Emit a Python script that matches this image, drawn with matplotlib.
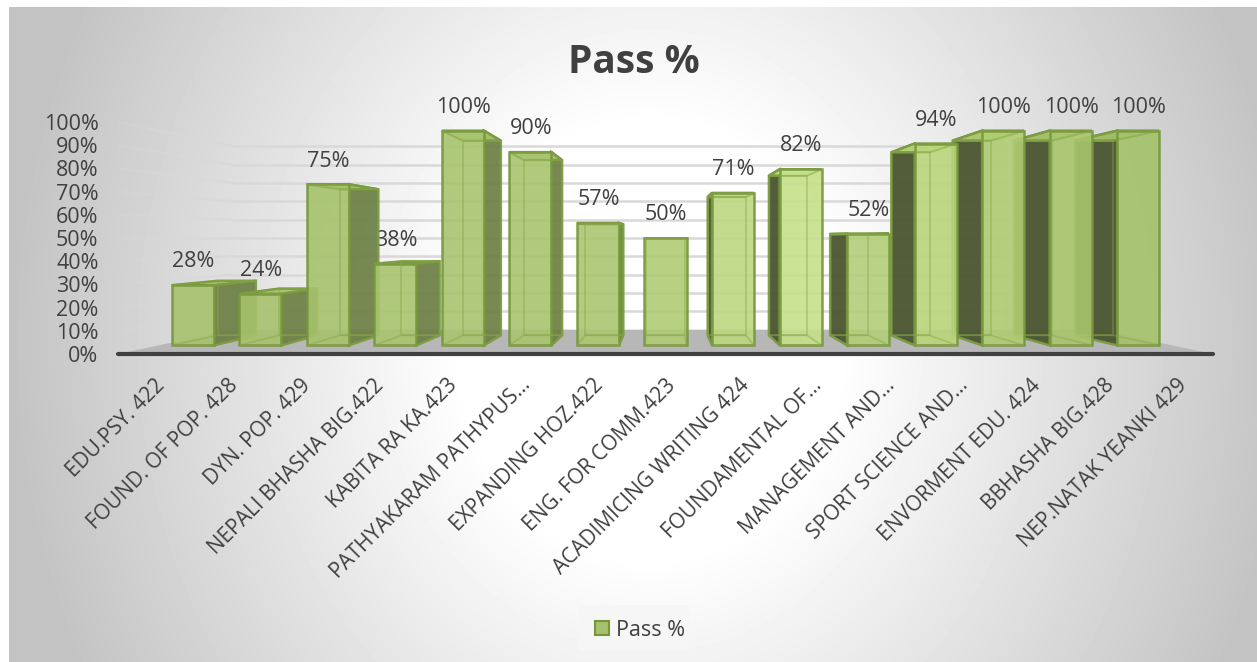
import numpy as np
import matplotlib
matplotlib.use("Agg")
import matplotlib.pyplot as plt
from matplotlib.patches import Polygon, Patch, Rectangle

categories = ['EDU.PSY. 422', 'FOUND. OF POP. 428', 'DYN. POP. 429', 'NEPALI BHASHA BIG.422',
              'KABITA RA KA.423', 'PATHYAKARAM PATHYPUS…', 'EXPANDING HOZ.422', 'ENG. FOR COMM.423',
              'ACADIMICING WRITING 424', 'FOUNDAMENTAL OF…', 'MANAGEMENT AND…', 'SPORT SCIENCE AND…',
              'ENVORMENT EDU. 424', 'BBHASHA BIG.428', 'NEP.NATAK YEANKI 429']
pass_pct = [28, 24, 75, 38, 100, 90, 57, 50, 71, 82, 52, 94, 100, 100, 100]
y_ticks = list(range(0, 101, 10))

W, H = 1257, 662
TEXT = '#404040'
EDGE = '#76963C'
face_colors = ['#A6C26C', '#A6C26C', '#A6C26C', '#A8C46E', '#A8C46E', '#A8C46E', '#AAC670', '#AFCB75',
               '#BCD780', '#C6E08A', '#B2CE78', '#BAD67C', '#B0CC72', '#A8C56C', '#A5C26B']

plt.rcParams['font.family'] = ['Open Sans', 'DejaVu Sans']

fig = plt.figure(figsize=(W / 100, H / 100), dpi=100)

# grey panel with the white glow in the middle
bg = fig.add_axes([9 / W, 0, (W - 9) / W, (H - 7) / H])
xx, yy = np.meshgrid(np.arange(9, W), np.arange(7, H))
r = np.hypot((xx - 650) / 630, (yy - 340) / 720)
bg.imshow(255 - 60 * np.clip((r - 0.3) / 0.72, 0, 1), cmap='gray', vmin=0, vmax=255, aspect='auto')
bg.axis('off')

# the axes is the front plane of the 3d box, depth goes towards the vanishing point
ax = fig.add_axes([118 / W, (H - 354) / H, 1095 / W, 232 / H])
ax.patch.set_alpha(0)
ax.set_xlim(-0.5, 14.5)
ax.set_ylim(0, 100)
VX, VY = 7, 50


def project(x, v, s):
    return VX + s * (x - VX), VY + s * (v - VY)


def face(points, color, alpha, z, edge=EDGE, lw=1.8):
    ax.add_patch(Polygon(points, closed=True, facecolor=color, alpha=alpha, zorder=z, clip_on=False,
                         edgecolor=edge, linewidth=lw, joinstyle='miter'))


def wire(points, z):
    ax.add_patch(Polygon(points, closed=True, fill=False, edgecolor='#86A648', linewidth=1.2, alpha=0.45,
                         zorder=z, clip_on=False))


WALL = 0.79
ax.add_patch(Polygon([project(-0.5, 0, 1), project(-0.5, 0, WALL), project(14.5, 0, WALL), project(14.5, 0, 1)],
                     facecolor='#B7B7B7', edgecolor='none', zorder=1))
for v in y_ticks[1:]:
    x0, y0 = project(-0.5, v, WALL)
    x1, y1 = project(14.5, v, WALL)
    ax.plot([x0, x1], [y0, y1], color='#D9D9D9', lw=1.8, zorder=1.5, clip_on=False)
    # left wall fades out to the front
    steps = np.linspace(1, WALL, 9)
    for k in range(8):
        a, b = project(-0.5, v, steps[k]), project(-0.5, v, steps[k + 1])
        ax.plot([a[0], b[0]], [a[1], b[1]], color='#D9D9D9', lw=1.8, alpha=0.25 + 0.75 * k / 7,
                zorder=1.5, solid_capstyle='butt', clip_on=False)

S_FRONT = 0.925
S_BACK = 0.839
HW = 0.311
for i, v in enumerate(pass_pct):
    # outer bars first, the ones near the middle sit on top of them
    z = 2 + (7 - abs(i - 7)) * 0.1
    c = face_colors[i]
    fl, fb = project(i - HW, 0, S_FRONT)
    fr, ft = project(i + HW, v, S_FRONT)
    bl, bb = project(i - HW, 0, S_BACK)
    br, bt = project(i + HW, v, S_BACK)
    if i < 7:
        face([(fr, fb), (br, bb), (br, bt), (fr, ft)], '#6C7F45', 0.92, z + 0.01)
    elif i > 7:
        face([(fl, fb), (bl, bb), (bl, bt), (fl, ft)], '#4B5530', 0.95, z + 0.01)
    face([(fl, ft), (fr, ft), (br, bt), (bl, bt)], c, 0.95, z + 0.02)
    ax.bar((fl + fr) / 2, ft - fb, width=fr - fl, bottom=fb, color=c, alpha=0.9, edgecolor=EDGE,
           linewidth=1.8, zorder=z + 0.03, clip_on=False)
    # hidden edges show through the glassy front
    wire([(fl, fb), (bl, bb), (br, bb), (fr, fb)], z + 0.04)
    wire([(fl, ft), (bl, bt), (br, bt), (fr, ft)], z + 0.04)
    wire([(bl, bb), (br, bb), (br, bt), (bl, bt)], z + 0.04)
    ax.annotate(f'{v}%', ((fl + fr) / 2, ft), xytext=(0.5, 16.8), textcoords='offset points', ha='center',
                va='center', fontsize=15.5, color=TEXT, zorder=1.8, annotation_clip=False)

ax.set_yticks(y_ticks)
ax.set_yticklabels([f'{v}%' for v in y_ticks], fontsize=15.5, color=TEXT)
ax.set_xticks(range(len(categories)))
ax.set_xticklabels(categories, rotation=45, ha='right', rotation_mode='anchor', fontsize=15, color=TEXT)
ax.tick_params(axis='y', length=0, pad=14)
ax.tick_params(axis='x', length=0, pad=15)
for name in ['top', 'left', 'right']:
    ax.spines[name].set_visible(False)
ax.spines['bottom'].set_linewidth(3)
ax.spines['bottom'].set_color(TEXT)
ax.spines['bottom'].set_capstyle('round')
ax.spines['bottom'].set_zorder(6)

fig.text(634 / W, 1 - 62.5 / H, 'Pass %', fontsize=28, fontweight='bold', color=TEXT, ha='center', va='center')

fig.add_artist(Rectangle((579 / W, 1 - 650 / H), 110 / W, 45 / H, transform=fig.transFigure,
                         facecolor='#F6F6F6', edgecolor='none'))
fig.legend(handles=[Patch(facecolor='#A6C26C', edgecolor=EDGE, linewidth=1.5, label='Pass %')],
           loc='center', bbox_to_anchor=(640 / W, 1 - 630 / H), frameon=False, fontsize=15.5,
           labelcolor=TEXT, handlelength=0.65, handleheight=0.65, handletextpad=0.3, borderpad=0,
           borderaxespad=0)

fig.savefig('out.png', dpi=100)
